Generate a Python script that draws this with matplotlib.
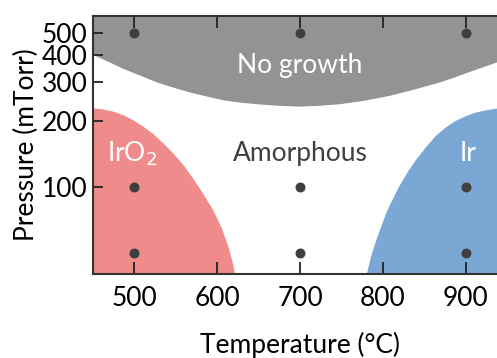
import matplotlib
matplotlib.use("Agg")
import matplotlib.pyplot as plt
from matplotlib.ticker import FixedLocator, NullLocator, FixedFormatter

plt.rcParams['font.family'] = ['Lato', 'DejaVu Sans']

# Sample grid
temps = [500, 700, 900, 500, 700, 900, 500, 700, 900]
pressures = [500, 500, 500, 100, 100, 100, 50, 50, 50]

# Region boundaries
nogrowth_x = [450, 470, 487, 507, 527, 547, 567, 587, 607, 627, 647, 673, 699,
              723, 748, 778, 808, 838, 868, 888, 908, 936, 950]
nogrowth_y = [400, 370, 345, 322, 300, 284, 270, 259, 249, 243, 239, 235, 233,
              235, 239, 248, 261, 279, 300, 318, 339, 369, 380]
iro2_x = [450, 462, 474, 486, 498, 510, 522, 534, 546, 558, 570, 582, 595,
          605, 613, 619, 621]
iro2_y = [229, 226, 221, 213, 202, 189, 175, 159, 143, 127, 110, 94, 78,
          65, 53.5, 44, 40]
ir_x = [780, 785, 792, 804, 812, 820, 830, 840, 852, 864, 876, 888, 900,
        912, 924, 936, 950]
ir_y = [40, 48, 58, 77, 89, 102, 118, 134, 153, 172, 188, 201, 211,
        219, 224, 228, 231]

xticks = [500, 600, 700, 800, 900]
yticks = [100, 200, 300, 400, 500]
ytick_labels = ['100', '200', '300', '400', '500']

fig = plt.figure(figsize=(4.97, 3.58), dpi=100)
ax = fig.add_axes([93/497, 84/358, (507-93)/497, 258/358])
ax.set_yscale('log')
ax.set_xlim(450, 950)
ax.set_ylim(40, 600)

ax.fill_between(nogrowth_x, nogrowth_y, 600, color='#939393', lw=0, zorder=1)
ax.fill_between(iro2_x, iro2_y, 40, color='#f08b8b', lw=0, zorder=1)
ax.fill_between(ir_x, ir_y, 40, color='#7ba7d5', lw=0, zorder=1)

ax.scatter(temps, pressures, s=38, color='#3f3f3f', zorder=3, clip_on=False)

ax.xaxis.set_major_locator(FixedLocator(xticks))
ax.yaxis.set_major_locator(FixedLocator(yticks))
ax.yaxis.set_major_formatter(FixedFormatter(ytick_labels))
ax.yaxis.set_minor_locator(NullLocator())
ax.tick_params(axis='x', direction='in', length=8.5, width=1.3, top=True,
               labelsize=19, pad=9, color='#222222')
ax.tick_params(axis='y', direction='in', length=7.5, width=1.3, right=True,
               labelsize=19, pad=4, color='#222222')
for s in ax.spines.values():
    s.set_linewidth(1.5)
    s.set_color('#333333')
    s.set_zorder(4)

ax.set_xlabel('Temperature (°C)', fontsize=19, labelpad=15)
ax.set_ylabel('Pressure (mTorr)', fontsize=19, labelpad=2)

ax.text(700, 357, 'No growth', color='white', fontsize=19, ha='center', va='center', zorder=5)
ax.text(700, 142, 'Amorphous', color='#404040', fontsize=19, ha='center', va='center', zorder=5)
ax.text(497, 142, 'IrO$_2$', color='white', fontsize=19, ha='center', va='center', zorder=5)
ax.text(903, 142, 'Ir', color='white', fontsize=19, ha='center', va='center', zorder=5)

fig.savefig('out.png', dpi=100)
